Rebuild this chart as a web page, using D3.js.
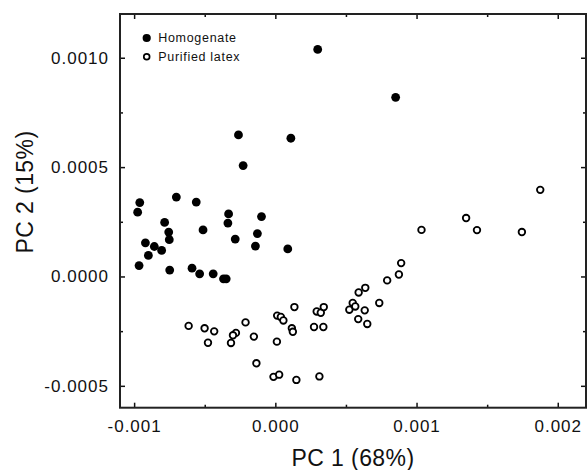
<!DOCTYPE html>
<html>
<head>
<meta charset="utf-8">
<script src="https://cdn.jsdelivr.net/npm/d3@7"></script>
<style>
  body { margin: 0; background: #fff; }
  svg { display: block; font-family: "Liberation Sans", Arial, sans-serif; }
</style>
</head>
<body>
<div class="chart"></div>
<script>
// PC scores (PC1, PC2)
const homogenateX = [-0.00096, -0.000975, -0.000701, -0.00056, -0.000331, -0.000336, -0.000098, -0.000784,
  -0.000755, -0.000751, -0.000512, -0.000284, -0.000127, -0.000141, 0.000088, -0.00092, -0.000857,
  -0.000805, -0.000899, -0.000965, -0.000748, -0.00059, -0.000536, -0.00044, -0.000367, -0.000348,
  -0.000261, -0.000228, 0.00011, 0.0003, 0.000852];
const homogenateY = [0.000338, 0.000294, 0.000363, 0.00034, 0.000286, 0.000244, 0.000274, 0.000247,
  0.000203, 0.000168, 0.000213, 0.000171, 0.000196, 0.000139, 0.000126, 0.000154, 0.000137,
  0.000119, 0.000096, 0.00005, 0.000029, 0.000038, 0.000012, 0.000012, -0.000011, -0.000011,
  0.000647, 0.000507, 0.000632, 0.001038, 0.000819];

const latexX = [-0.000614, -0.000501, -0.000433, -0.000477, -0.000279, -0.0003, -0.000314, -0.000211,
  -0.000152, -0.000134, 0.000013, 0.000039, 0.000057, 0.000011, 0.000117, 0.000124, 0.000135,
  -0.000013, 0.000027, 0.000149, 0.000293, 0.000322, 0.000343, 0.000274, 0.00034, 0.000312,
  0.000548, 0.000524, 0.000566, 0.000633, 0.000587, 0.000651, 0.00059, 0.000637, 0.000736,
  0.000792, 0.000875, 0.000891, 0.001035, 0.001351, 0.001428, 0.001746, 0.001876];
const latexY = [-0.000226, -0.000237, -0.000251, -0.000303, -0.000258, -0.000269, -0.000304, -0.00021,
  -0.000275, -0.000397, -0.000179, -0.000185, -0.000201, -0.000298, -0.000237, -0.000253, -0.00014,
  -0.000459, -0.000449, -0.000473, -0.00016, -0.000166, -0.00014, -0.000231, -0.000231, -0.000457,
  -0.000121, -0.000152, -0.000137, -0.000155, -0.000195, -0.000217, -0.000073, -0.000052, -0.000121,
  -0.000018, 0.000009, 0.000061, 0.000213, 0.000267, 0.000212, 0.000203, 0.000396];

const xTicks = [-0.001, 0, 0.001, 0.002];
const xMinor = [-0.0005, 0.0005, 0.0015];
const yTicks = [-0.0005, 0, 0.0005, 0.001];
const yMinor = [-0.00025, 0.00025, 0.00075];
const legendLabels = ['Homogenate', 'Purified latex'];

const outerWidth = 587;
const outerHeight = 470;
const plot = { left: 120, right: 586, top: 14, bottom: 407.7 };
const ink = '#111';

const svg = d3.select('.chart').append('svg')
    .attr('width', outerWidth)
    .attr('height', outerHeight);

// Scales
const x = d3.scaleLinear().domain([-0.0011, 0.0022]).range([plot.left, plot.right]);
const y = d3.scaleLinear().domain([-0.0006, 0.0012]).range([plot.bottom, plot.top]);

// Axes: ticks point inward on all four sides
function addAxis(axis, tx, ty, labels) {
    const g = svg.append('g')
        .attr('transform', `translate(${tx}, ${ty})`)
        .call(axis);
    g.select('.domain').remove();
    g.selectAll('line').attr('stroke', ink).attr('stroke-width', 1.5);
    g.selectAll('text')
        .attr('fill', ink)
        .style('font-size', labels ? '17px' : '0px')
        .style('letter-spacing', '1px');
    return g;
}

addAxis(d3.axisBottom(x).tickValues(xTicks).tickSize(-5).tickPadding(12).tickFormat(d => d.toFixed(3)), 0, plot.bottom, true);
addAxis(d3.axisBottom(x).tickValues(xMinor).tickSize(-3).tickFormat(''), 0, plot.bottom, false);
addAxis(d3.axisTop(x).tickValues(xTicks).tickSize(-5).tickFormat(''), 0, plot.top, false);
addAxis(d3.axisTop(x).tickValues(xMinor).tickSize(-3).tickFormat(''), 0, plot.top, false);

addAxis(d3.axisLeft(y).tickValues(yTicks).tickSize(-5).tickPadding(11).tickFormat(d => d.toFixed(4)), plot.left, 0, true);
addAxis(d3.axisLeft(y).tickValues(yMinor).tickSize(-3).tickFormat(''), plot.left, 0, false);
addAxis(d3.axisRight(y).tickValues(yTicks).tickSize(-5).tickFormat(''), plot.right, 0, false);
addAxis(d3.axisRight(y).tickValues(yMinor).tickSize(-3).tickFormat(''), plot.right, 0, false);

// Frame
svg.append('rect')
    .attr('x', plot.left)
    .attr('y', plot.top)
    .attr('width', plot.right - plot.left)
    .attr('height', plot.bottom - plot.top)
    .attr('fill', 'none')
    .attr('stroke', '#222')
    .attr('stroke-width', 2);

// Axis titles
svg.append('text')
    .attr('x', (plot.left + plot.right) / 2)
    .attr('y', 466)
    .attr('text-anchor', 'middle')
    .attr('fill', ink)
    .style('font-size', '23px')
    .style('letter-spacing', '0.4px')
    .text('PC 1 (68%)');

svg.append('text')
    .attr('transform', 'translate(33, 192) rotate(-90)')
    .attr('text-anchor', 'middle')
    .attr('fill', ink)
    .style('font-size', '23px')
    .style('letter-spacing', '0.4px')
    .text('PC 2 (15%)');

// Points
svg.append('g').selectAll('circle')
    .data(latexX)
    .join('circle')
    .attr('cx', d => x(d))
    .attr('cy', (d, i) => y(latexY[i]))
    .attr('r', 3.3)
    .attr('fill', '#fff')
    .attr('stroke', '#000')
    .attr('stroke-width', 1.8);

svg.append('g').selectAll('circle')
    .data(homogenateX)
    .join('circle')
    .attr('cx', d => x(d))
    .attr('cy', (d, i) => y(homogenateY[i]))
    .attr('r', 4.4)
    .attr('fill', '#000');

// Legend
const legend = svg.append('g').attr('transform', 'translate(146.7, 38)');
legend.append('circle').attr('r', 4.1).attr('fill', '#000');
legend.append('circle').attr('cy', 18.7).attr('r', 2.9)
    .attr('fill', '#fff').attr('stroke', '#000').attr('stroke-width', 1.7);
legend.selectAll('text')
    .data(legendLabels)
    .join('text')
    .attr('x', 11.5)
    .attr('y', (d, i) => 3.8 + i * 18.8)
    .attr('fill', ink)
    .style('font-size', '12.5px')
    .style('letter-spacing', '0.7px')
    .text(d => d);
</script>
</body>
</html>
